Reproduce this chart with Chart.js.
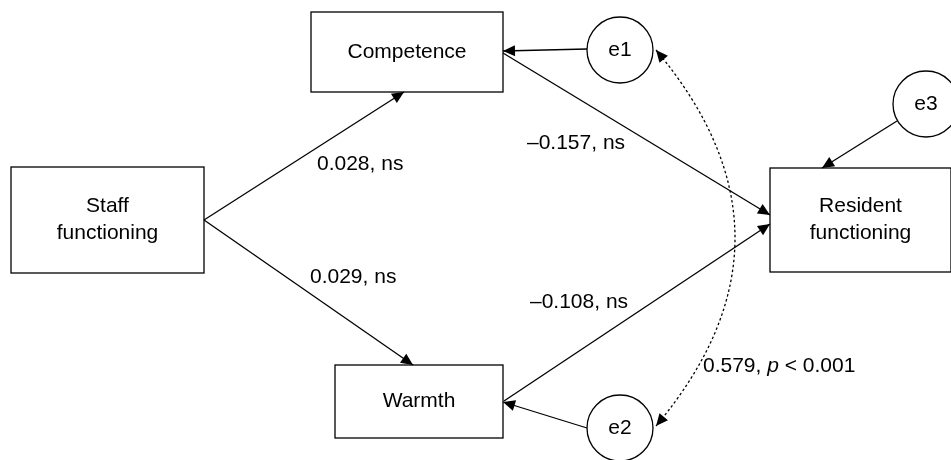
<!DOCTYPE html>
<html>
<head>
<meta charset="utf-8">
<script src="https://cdn.jsdelivr.net/npm/chart.js@4.4.1/dist/chart.umd.min.js"></script>
<style>
  html, body { margin: 0; padding: 0; background: #ffffff; }
  #wrap { width: 951px; height: 460px; position: relative; }
</style>
</head>
<body>
<div id="wrap"><canvas id="c" width="951" height="460"></canvas></div>
<script>
// ---- data ----
const nodeNames = ['Staff\nfunctioning', 'Competence', 'Warmth', 'Resident\nfunctioning'];
const errorNames = ['e1', 'e2', 'e3'];
const pathFrom = [0, 0, 1, 2];
const pathTo = [1, 2, 3, 3];
const pathCoef = [0.028, 0.029, -0.157, -0.108];
const pathSig = ['ns', 'ns', 'ns', 'ns'];
const covValue = 0.579;
const covP = '< 0.001';

// ---- layout (positions in scale units) ----
const boxRects = [ [11,167,204,273], [311,12,503,92], [335,365,503,438], [770,168,951,272] ];
const circleCenters = [ [620,50], [620,428], [926,104] ];
const circleR = 33;
const pathEnds = [ [[204,220],[404,92]], [[204,220],[413,365]], [[503,53],[770,215]], [[504,401],[770,224]] ];
const errEnds = [ [[587,49],[503,51]], [[587,428],[503,402]], [[897,121],[822,168]] ];
const pathLabelPos = [ [317,164], [310,277], [527,143], [530,302] ];
const covCurve = [[656,50],[814,238],[656,426]];
const covLabelPos = [703,366];

function fmt(v){ const s = Math.abs(v).toFixed(3); return (v < 0 ? '\u2013' : '') + s; }

const lineDatasets = [];
pathEnds.forEach(e => lineDatasets.push({ data: e.map(p => ({x:p[0], y:p[1]})) }));
errEnds.forEach(e => lineDatasets.push({ data: e.map(p => ({x:p[0], y:p[1]})) }));
lineDatasets.forEach(d => Object.assign(d, { showLine: true, borderColor: '#000', borderWidth: 1.3, pointRadius: 0, clip: false, tension: 0 }));

const FONT = '21px "Liberation Sans", Arial, sans-serif';
const FONT_I = 'italic 21px "Liberation Sans", Arial, sans-serif';

function arrowHead(ctx, tip, from, len, hw) {
  const ang = Math.atan2(tip[1]-from[1], tip[0]-from[0]);
  ctx.save();
  ctx.translate(tip[0], tip[1]);
  ctx.rotate(ang);
  ctx.beginPath();
  ctx.moveTo(0,0); ctx.lineTo(-len, -hw); ctx.lineTo(-len, hw); ctx.closePath();
  ctx.fillStyle = '#000'; ctx.fill();
  ctx.restore();
}

const diagram = {
  id: 'diagram',
  beforeDatasetsDraw(chart) {
    const {ctx, scales:{x, y}} = chart;
    ctx.save();
    ctx.lineWidth = 1.3; ctx.strokeStyle = '#000'; ctx.fillStyle = '#fff';
    boxRects.forEach(r => {
      const x0 = x.getPixelForValue(r[0]), y0 = y.getPixelForValue(r[1]);
      const x1 = x.getPixelForValue(r[2]), y1 = y.getPixelForValue(r[3]);
      ctx.fillRect(x0, y0, x1-x0, y1-y0);
      ctx.strokeRect(x0, y0, x1-x0, y1-y0);
    });
    circleCenters.forEach(c => {
      const cx = x.getPixelForValue(c[0]), cy = y.getPixelForValue(c[1]);
      const r = x.getPixelForValue(c[0]+circleR) - cx;
      ctx.beginPath(); ctx.arc(cx, cy, r, 0, Math.PI*2);
      ctx.fillStyle = '#fff'; ctx.fill(); ctx.stroke();
    });
    ctx.restore();
  },
  afterDatasetsDraw(chart) {
    const {ctx, scales:{x, y}} = chart;
    const P = p => [x.getPixelForValue(p[0]), y.getPixelForValue(p[1])];
    ctx.save();
    // arrowheads
    pathEnds.concat(errEnds).forEach(e => arrowHead(ctx, P(e[1]), P(e[0]), 12, 5.5));
    // covariance curve
    const a = P(covCurve[0]), c = P(covCurve[1]), b = P(covCurve[2]);
    ctx.beginPath();
    ctx.setLineDash([2.5, 2.5]);
    ctx.lineWidth = 1.3; ctx.strokeStyle = '#000';
    ctx.moveTo(a[0], a[1]); ctx.quadraticCurveTo(c[0], c[1], b[0], b[1]);
    ctx.stroke();
    ctx.setLineDash([]);
    arrowHead(ctx, a, c, 12, 5.5);
    arrowHead(ctx, b, c, 12, 5.5);
    // texts
    ctx.fillStyle = '#000';
    ctx.font = FONT;
    ctx.textBaseline = 'middle';
    ctx.textAlign = 'center';
    nodeNames.forEach((n, i) => {
      const r = boxRects[i];
      const cx = x.getPixelForValue((r[0]+r[2])/2), cy = y.getPixelForValue((r[1]+r[3])/2);
      const lines = n.split('\n');
      const lh = 27;
      lines.forEach((l, k) => ctx.fillText(l, cx, cy + (k - (lines.length-1)/2)*lh));
    });
    errorNames.forEach((n, i) => {
      const p = P(circleCenters[i]);
      ctx.fillText(n, p[0], p[1]);
    });
    ctx.textAlign = 'left';
    pathCoef.forEach((v, i) => {
      const p = P(pathLabelPos[i]);
      ctx.fillText(fmt(v) + ', ' + pathSig[i], p[0], p[1]);
    });
    // covariance label
    const q = P(covLabelPos);
    let cx = q[0];
    const parts = [[fmt(covValue) + ', ', FONT], ['p', FONT_I], [' ' + covP, FONT]];
    parts.forEach(pt => { ctx.font = pt[1]; ctx.fillText(pt[0], cx, q[1]); cx += ctx.measureText(pt[0]).width; });
    ctx.restore();
  }
};

new Chart(document.getElementById('c'), {
  type: 'scatter',
  data: { datasets: lineDatasets },
  options: {
    responsive: false,
    animation: false,
    layout: { padding: 0 },
    plugins: { legend: { display: false }, tooltip: { enabled: false } },
    scales: {
      x: { type: 'linear', min: 0, max: 951, display: false },
      y: { type: 'linear', min: 0, max: 460, reverse: true, display: false }
    }
  },
  plugins: [diagram]
});
</script>
</body>
</html>
